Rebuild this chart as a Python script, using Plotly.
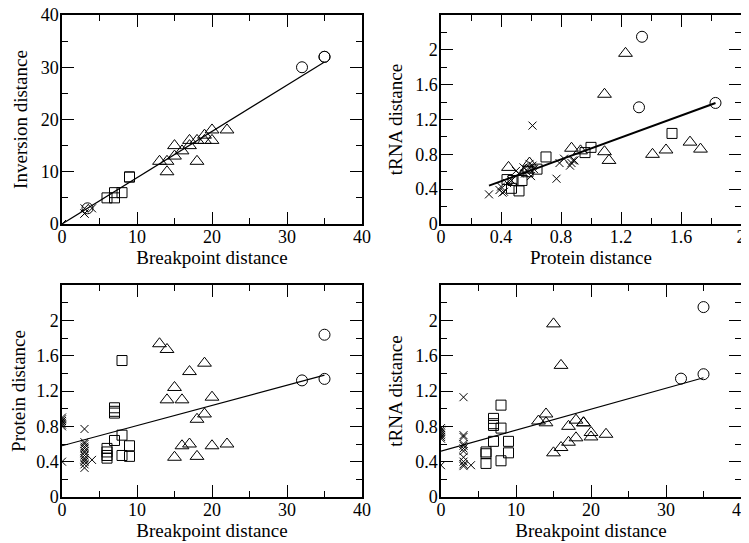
import plotly.graph_objects as go

# ------------------------------- Datos -------------------------------

# Panel 1: Inversion distance vs Breakpoint distance
inv_cruz_x = [0, 0, 0, 3, 3, 3, 4]
inv_cruz_y = [0, 0, 0, 2, 2, 3, 3]
inv_cuad_x = [6, 7, 7, 8, 9, 9]
inv_cuad_y = [5, 5, 6, 6, 9, 9]
inv_tri_x = [13, 14, 14, 15, 15, 16, 17, 17, 18, 18, 19, 19, 20, 20, 22]
inv_tri_y = [12, 12, 10, 15, 13, 14, 16, 15, 12, 16, 17, 16, 18, 16, 18]
inv_circ_x = [3.4, 32, 35, 35]
inv_circ_y = [3, 30, 32, 32]
inv_recta_x = [0, 35]
inv_recta_y = [0, 31]

# Panel 2: tRNA distance vs Protein distance
tp_cruz_x = [0.32, 0.61, 0.77, 0.39, 0.42, 0.40, 0.41, 0.44, 0.50, 0.52, 0.55, 0.57,
             0.59, 0.61, 0.60, 0.62, 0.56, 0.79, 0.82, 0.87, 0.89, 0.88, 0.86, 0.47]
tp_cruz_y = [0.34, 1.13, 0.52, 0.39, 0.37, 0.43, 0.36, 0.47, 0.61, 0.58, 0.65, 0.62,
             0.69, 0.67, 0.55, 0.63, 0.58, 0.70, 0.75, 0.70, 0.73, 0.73, 0.67, 0.50]
tp_cuad_x = [0.70, 1.00, 0.96, 0.64, 0.52, 0.47, 0.44, 0.48, 0.54, 1.54, 0.58]
tp_cuad_y = [0.77, 0.88, 0.82, 0.63, 0.38, 0.41, 0.51, 0.50, 0.50, 1.04, 0.60]
tp_tri_x = [1.23, 1.09, 1.09, 1.12, 0.87, 0.93, 1.41, 1.50, 1.66, 1.73, 0.45, 0.59, 0.57]
tp_tri_y = [1.96, 1.49, 0.83, 0.73, 0.87, 0.84, 0.80, 0.85, 0.94, 0.86, 0.65, 0.70, 0.62]
tp_circ_x = [1.34, 1.32, 1.83]
tp_circ_y = [2.15, 1.34, 1.39]
tp_recta_x = [0.32, 1.83]
tp_recta_y = [0.44, 1.39]

# Panel 3: Protein distance vs Breakpoint distance
pb_cruz_x = [0, 0, 0, 0, 0, 0, 0, 3, 3, 3, 3, 3, 3, 3, 3, 3, 3, 3, 3, 3, 4]
pb_cruz_y = [0.80, 0.82, 0.84, 0.86, 0.88, 0.90, 0.40,
             0.77, 0.62, 0.60, 0.57, 0.55, 0.52, 0.50, 0.47, 0.44, 0.42, 0.40, 0.37, 0.33, 0.42]
pb_cuad_x = [8, 7, 7, 7, 7, 8, 8, 9, 9, 6, 6, 6, 6]
pb_cuad_y = [1.545, 1.01, 0.97, 0.95, 0.64, 0.70, 0.47, 0.58, 0.46, 0.55, 0.51, 0.47, 0.44]
pb_tri_x = [13, 14, 17, 19, 15, 14, 16, 20, 19, 18, 16, 17, 20, 22, 15, 18]
pb_tri_y = [1.735, 1.67, 1.42, 1.515, 1.24, 1.10, 1.10, 1.13, 0.94, 0.88,
            0.58, 0.60, 0.58, 0.60, 0.45, 0.46]
pb_circ_x = [35, 35, 32]
pb_circ_y = [1.837, 1.337, 1.32]
pb_recta_x = [0, 35]
pb_recta_y = [0.58, 1.38]

# Panel 4: tRNA distance vs Breakpoint distance
tb_cruz_x = [0, 0, 0, 0, 0, 0, 0, 0, 3, 3, 3, 3, 3, 3, 3, 3, 3, 3, 3, 4]
tb_cruz_y = [0.66, 0.68, 0.70, 0.72, 0.74, 0.76, 0.78, 0.36,
             1.13, 0.70, 0.68, 0.60, 0.58, 0.55, 0.52, 0.45, 0.40, 0.37, 0.35, 0.36]
tb_cuad_x = [8, 7, 7, 7, 8, 7, 9, 9, 8, 6, 6, 6]
tb_cuad_y = [1.04, 0.89, 0.83, 0.81, 0.78, 0.63, 0.63, 0.50, 0.41, 0.38, 0.51, 0.49]
tb_tri_x = [15, 16, 14, 14, 13, 17, 18, 19, 19, 20, 20, 22, 18, 17, 16, 15]
tb_tri_y = [1.96, 1.49, 0.94, 0.84, 0.86, 0.80, 0.87, 0.84, 0.84, 0.73, 0.68, 0.71,
            0.67, 0.62, 0.56, 0.50]
tb_circ_x = [35, 35, 32]
tb_circ_y = [2.15, 1.39, 1.34]
tb_recta_x = [0, 35]
tb_recta_y = [0.52, 1.35]

# Ticks de los ejes de distancia (0 a 2)
ticks_dist = [0, 0.4, 0.8, 1.2, 1.6, 2]
ticks_dist_txt = ['0', '0.4', '0.8', '1.2', '1.6', '2']

# ------------------------------- Funciones -------------------------------

fuente = 'Liberation Serif, Times New Roman, serif'


# Agrega los cuatro grupos de marcadores y la recta de un panel
def agregar_panel(fig, n, cruz, cuad, tri, circ, recta, grosor=1.2):
    xa = 'x' if n == 1 else 'x%d' % n
    ya = 'y' if n == 1 else 'y%d' % n
    grupos = [
        (cruz, 'x-thin-open', 8),
        (cuad, 'square-open', 10),
        (tri, 'triangle-up-open', 12),
        (circ, 'circle-open', 11),
    ]
    for (gx, gy), simbolo, tam in grupos:
        fig.add_trace(go.Scatter(
            x=gx, y=gy, mode='markers', xaxis=xa, yaxis=ya,
            marker=dict(symbol=simbolo, size=tam, color='black',
                        line=dict(color='black', width=1)),
            showlegend=False))
    fig.add_trace(go.Scatter(
        x=recta[0], y=recta[1], mode='lines', xaxis=xa, yaxis=ya,
        line=dict(color='black', width=grosor), showlegend=False))


# Estilo comun de eje tipo xmgrace
def eje(dominio, rango, titulo, dtick, minor, tickvals=None, ticktext=None,
        ancla=None, sep=4, sep_ticks=0):
    d = dict(
        domain=dominio, range=rango, anchor=ancla, automargin=False,
        title=dict(text=titulo, font=dict(size=19, family=fuente, color='black'), standoff=sep),
        showline=True, linecolor='black', linewidth=1.5, mirror='ticks',
        ticks='inside', ticklen=12, tickwidth=1.2, tickcolor='black',
        tickfont=dict(size=18, family=fuente, color='black'),
        ticklabelstandoff=sep_ticks, ticklabeloverflow='allow',
        showgrid=False, zeroline=False, dtick=dtick, tick0=0,
        minor=dict(ticks='inside', ticklen=6, tickwidth=1.2, tickcolor='black',
                   dtick=minor, tick0=0, showgrid=False),
    )
    if tickvals is not None:
        d['tickmode'] = 'array'
        d['tickvals'] = tickvals
        d['ticktext'] = ticktext
    return d


# ------------------------------- Figura -------------------------------

fig = go.Figure()
agregar_panel(fig, 1, (inv_cruz_x, inv_cruz_y), (inv_cuad_x, inv_cuad_y),
              (inv_tri_x, inv_tri_y), (inv_circ_x, inv_circ_y), (inv_recta_x, inv_recta_y))
agregar_panel(fig, 2, (tp_cruz_x, tp_cruz_y), (tp_cuad_x, tp_cuad_y),
              (tp_tri_x, tp_tri_y), (tp_circ_x, tp_circ_y), (tp_recta_x, tp_recta_y), 2)
agregar_panel(fig, 3, (pb_cruz_x, pb_cruz_y), (pb_cuad_x, pb_cuad_y),
              (pb_tri_x, pb_tri_y), (pb_circ_x, pb_circ_y), (pb_recta_x, pb_recta_y))
agregar_panel(fig, 4, (tb_cruz_x, tb_cruz_y), (tb_cuad_x, tb_cuad_y),
              (tb_tri_x, tb_tri_y), (tb_circ_x, tb_circ_y), (tb_recta_x, tb_recta_y))

# La pagina deja 8 px de margen (body), asi que la figura es 8 px mas chica
W, H = 741, 535
off = 8
izq = [(62 - off) / W, (362 - off) / W]
der = [(441 - off) / W, (741 - off) / W]
arriba = [1 - (224 - off) / H, 1 - (15 - off) / H]
abajo = [1 - (497 - off) / H, 1 - (285 - off) / H]

fig.update_layout(
    width=W, height=H,
    margin=dict(l=0, r=0, t=0, b=0),
    paper_bgcolor='white', plot_bgcolor='white',
    font=dict(family=fuente, color='black'),
    xaxis=eje(izq, [0, 40], 'Breakpoint distance', 10, 5, ancla='y', sep=2, sep_ticks=-4),
    yaxis=eje(arriba, [0, 40], 'Inversion distance', 10, 5, ancla='x', sep=8, sep_ticks=-2),
    xaxis2=eje(der, [0, 2], 'Protein distance', 0.4, 0.2, ancla='y2', sep=2, sep_ticks=-4),
    yaxis2=eje(arriba, [0, 2.4], 'tRNA distance', 0.4, 0.2, ticks_dist, ticks_dist_txt,
               ancla='x2', sep=8, sep_ticks=-2),
    xaxis3=eje(izq, [0, 40], 'Breakpoint distance', 10, 5, ancla='y3', sep=2, sep_ticks=-4),
    yaxis3=eje(abajo, [0, 2.4], 'Protein distance', 0.4, 0.2, ticks_dist, ticks_dist_txt,
               ancla='x3', sep=8, sep_ticks=-2),
    xaxis4=eje(der, [0, 40], 'Breakpoint distance', 10, 5, ancla='y4', sep=2, sep_ticks=-4),
    yaxis4=eje(abajo, [0, 2.4], 'tRNA distance', 0.4, 0.2, ticks_dist, ticks_dist_txt,
               ancla='x4', sep=8, sep_ticks=-2),
)

fig.write_html('out.html')
